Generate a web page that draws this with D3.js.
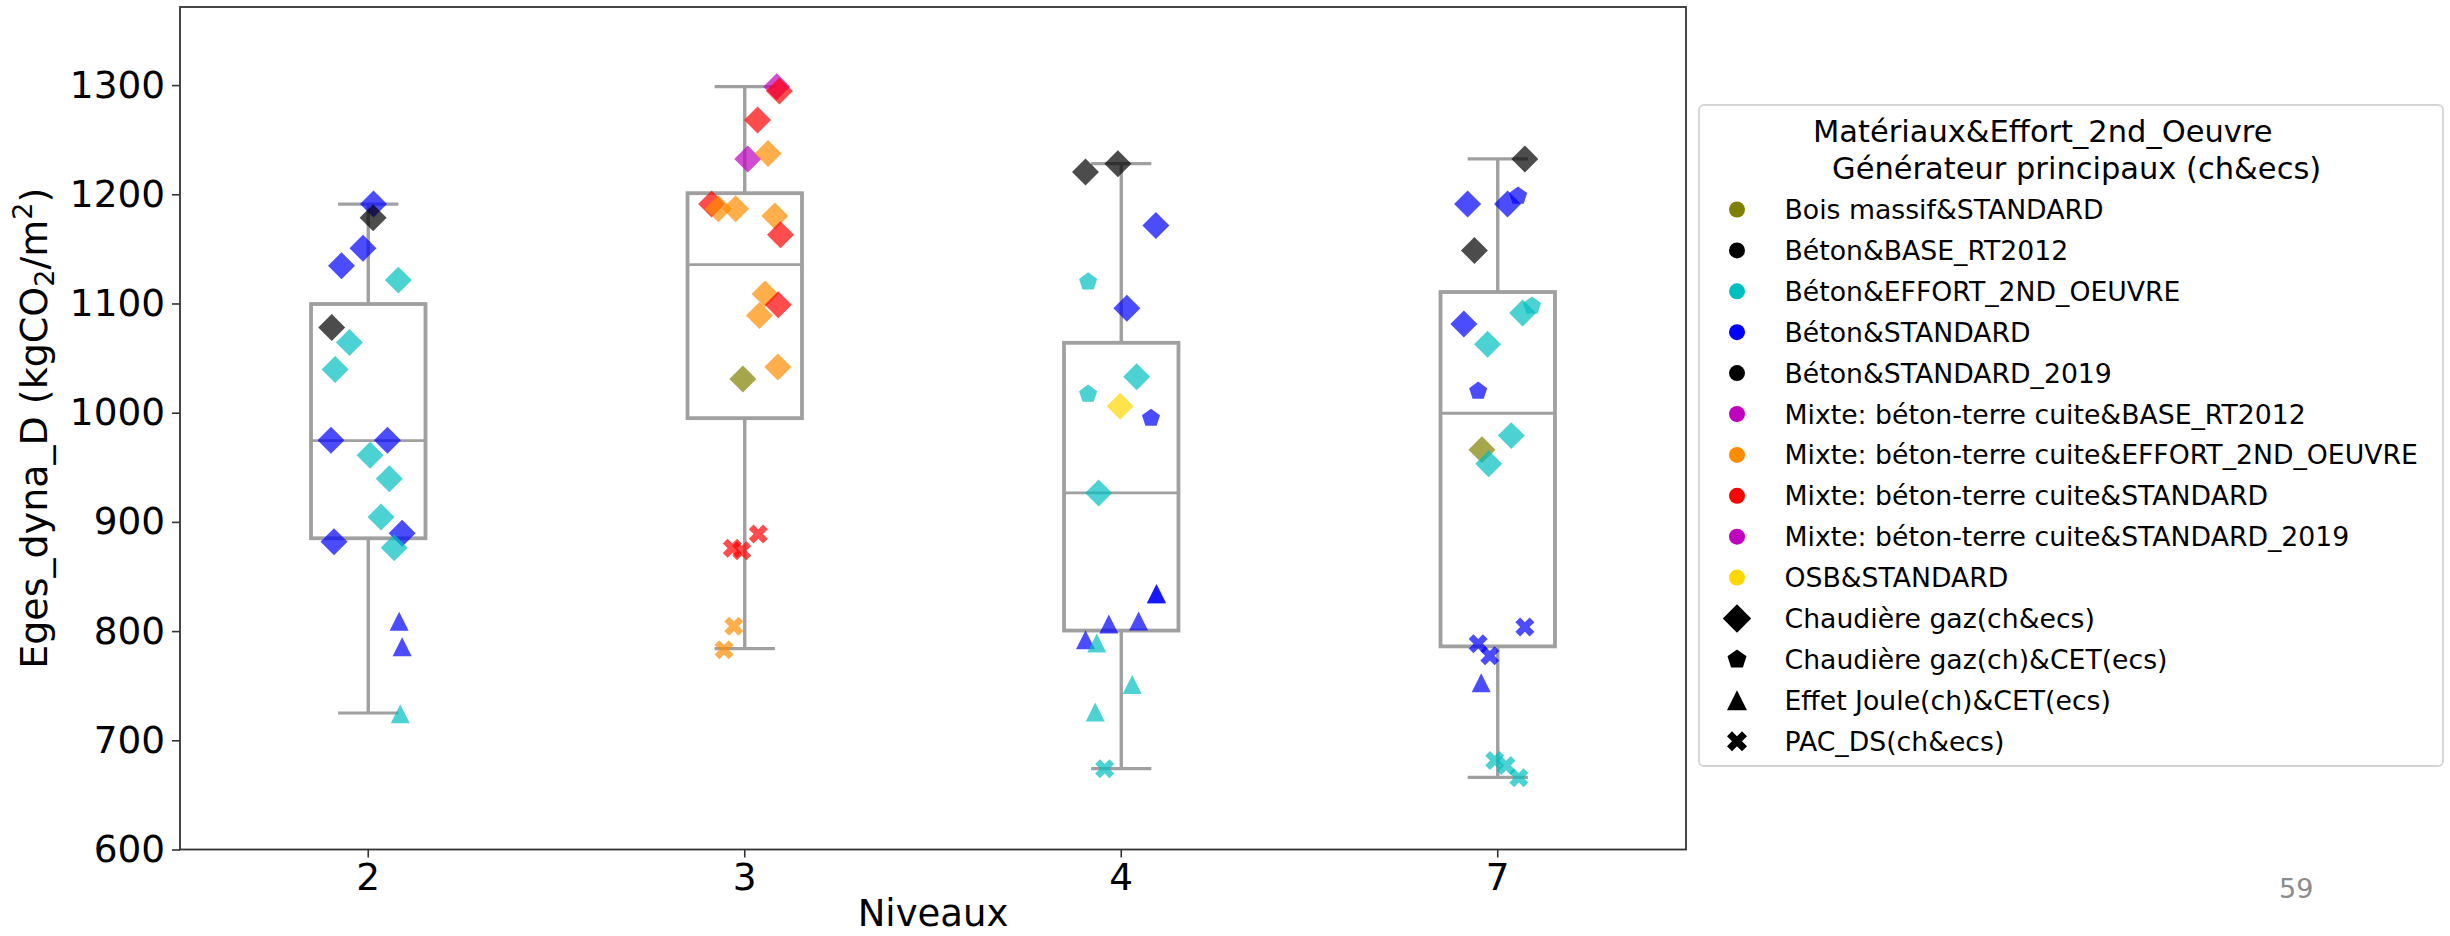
<!DOCTYPE html>
<html>
<head>
<meta charset="utf-8">
<script src="https://cdn.jsdelivr.net/npm/d3@7"></script>
<style>
  html, body { margin: 0; padding: 0; background: #fff; }
  svg { display: block; }
  text { font-family: "DejaVu Sans", sans-serif; }
</style>
</head>
<body>
<svg id="chart" width="2450" height="936"></svg>
<script>
// ---------------- DATA ----------------
const categories = ["2", "3", "4", "7"];
const yTicks = [600, 700, 800, 900, 1000, 1100, 1200, 1300];
const yDomain = [600, 1371.5];

// box statistics per level
const whiskerLow  = [725, 784, 674, 666];
const q1          = [885, 995, 800.5, 786];
const median      = [974.5, 1135.5, 926.5, 999.5];
const q3          = [1099.5, 1201, 1064, 1110.5];
const whiskerHigh = [1191, 1298.5, 1228, 1232.5];

const materials = [
  "Bois massif&STANDARD",
  "Béton&BASE_RT2012",
  "Béton&EFFORT_2ND_OEUVRE",
  "Béton&STANDARD",
  "Béton&STANDARD_2019",
  "Mixte: béton-terre cuite&BASE_RT2012",
  "Mixte: béton-terre cuite&EFFORT_2ND_OEUVRE",
  "Mixte: béton-terre cuite&STANDARD",
  "Mixte: béton-terre cuite&STANDARD_2019",
  "OSB&STANDARD"
];
const materialColors = ["#808000", "#000000", "#00bfbf", "#0000ff", "#000000",
                        "#bf00bf", "#ff8c00", "#ff0000", "#bf00bf", "#ffd700"];
const generators = ["Chaudière gaz(ch&ecs)", "Chaudière gaz(ch)&CET(ecs)",
                    "Effet Joule(ch)&CET(ecs)", "PAC_DS(ch&ecs)"];
const generatorShapes = ["diamond", "pentagon", "triangle", "cross"];

// points: [value, jitter (fraction of band), material index, generator index]
const level2Points = [
  [1191, 0.014, 3, 0], [1178.6, 0.013, 4, 0], [1150.6, -0.014, 3, 0], [1134.6, -0.071, 3, 0],
  [1121.4, 0.080, 2, 0], [1078, -0.097, 1, 0], [1064.3, -0.050, 2, 0], [1039.6, -0.088, 2, 0],
  [974.7, -0.099, 3, 0], [974.7, 0.051, 3, 0], [961, 0.005, 2, 0], [939.6, 0.056, 2, 0],
  [904.4, 0.034, 2, 0], [889.6, 0.090, 3, 0], [881.9, -0.091, 3, 0], [876.4, 0.069, 2, 0],
  [809, 0.082, 3, 2], [785.7, 0.090, 3, 2], [724.2, 0.085, 2, 2]
];
const level3Points = [
  [1298.5, 0.085, 5, 0], [1294.5, 0.092, 7, 0], [1268, 0.034, 7, 0], [1232.4, 0.008, 8, 0],
  [1237.4, 0.062, 6, 0], [1191.2, -0.088, 7, 0], [1186.8, -0.070, 6, 0], [1186.8, -0.024, 6, 0],
  [1180.2, 0.080, 6, 0], [1163, 0.095, 7, 0], [1108.8, 0.054, 6, 0], [1098.9, 0.089, 7, 0],
  [1089, 0.039, 6, 0], [1041.8, 0.088, 6, 0], [1030.8, -0.005, 0, 0],
  [889, 0.036, 7, 3], [875.8, -0.033, 7, 3], [873.6, -0.008, 7, 3], [804.4, -0.029, 6, 3], [783, -0.055, 6, 3]
];
const level4Points = [
  [1220.3, -0.095, 1, 0], [1228, -0.009, 4, 0], [1171.4, 0.092, 3, 0], [1119.8, -0.088, 2, 1],
  [1095.6, 0.015, 3, 0], [1033, 0.041, 2, 0], [1017, -0.088, 2, 1], [1006, -0.003, 9, 0],
  [995, 0.079, 3, 1], [926.4, -0.060, 2, 0], [834, 0.093, 3, 2], [834.5, 0.094, 3, 2],
  [809.3, 0.046, 3, 2], [806.6, -0.033, 3, 2], [792, -0.095, 3, 2], [789, -0.065, 2, 2],
  [751, 0.029, 2, 2], [726, -0.069, 2, 2], [674, -0.044, 2, 3]
];
const level7Points = [
  [1232.4, 0.072, 4, 0], [1191.2, -0.080, 3, 0], [1191.2, 0.026, 3, 0], [1198.4, 0.054, 3, 1],
  [1148.6, -0.062, 1, 0], [1081.3, -0.090, 3, 0], [1091.2, 0.066, 2, 0], [1097.8, 0.091, 2, 1],
  [1062.6, -0.027, 2, 0], [1019.8, -0.052, 3, 1], [979, 0.036, 2, 0], [966, -0.042, 0, 0],
  [953.3, -0.024, 2, 0], [803.8, 0.072, 3, 3], [788.5, -0.052, 3, 3], [777.5, -0.021, 3, 3],
  [752.8, -0.044, 3, 2], [681.4, -0.008, 2, 3], [677, 0.022, 2, 3], [665.6, 0.056, 2, 3]
];
const pointsByLevel = [level2Points, level3Points, level4Points, level7Points];

const legendTitle = ["Matériaux&Effort_2nd_Oeuvre", "Générateur principaux (ch&ecs)"];
const pageNumber = "59";

// ---------------- LAYOUT ----------------
const svg = d3.select("#chart");
const plot = { left: 180, right: 1686, top: 7, bottom: 849.5 };

const x = d3.scaleBand().domain(categories).range([plot.left, plot.right]).paddingInner(0).paddingOuter(0);
const y = d3.scaleLinear().domain(yDomain).range([plot.bottom, plot.top]);
const bw = x.bandwidth();
const cx = c => x(c) + bw / 2;

svg.append("rect").attr("width", 2450).attr("height", 936).attr("fill", "#fff");

// ---------------- BOXES ----------------
const boxColor = "#a0a0a0";
const boxHalf = bw * 0.152;
const capHalf = bw * 0.08;
const boxes = svg.append("g");
categories.forEach((c, i) => {
  const g = boxes.append("g");
  const xc = cx(c);
  g.append("line").attr("x1", xc).attr("x2", xc).attr("y1", y(whiskerHigh[i])).attr("y2", y(q3[i]))
    .attr("stroke", boxColor).attr("stroke-width", 3.4);
  g.append("line").attr("x1", xc).attr("x2", xc).attr("y1", y(q1[i])).attr("y2", y(whiskerLow[i]))
    .attr("stroke", boxColor).attr("stroke-width", 3.4);
  g.append("line").attr("x1", xc - capHalf).attr("x2", xc + capHalf).attr("y1", y(whiskerHigh[i])).attr("y2", y(whiskerHigh[i]))
    .attr("stroke", boxColor).attr("stroke-width", 3.2);
  g.append("line").attr("x1", xc - capHalf).attr("x2", xc + capHalf).attr("y1", y(whiskerLow[i])).attr("y2", y(whiskerLow[i]))
    .attr("stroke", boxColor).attr("stroke-width", 3.2);
  g.append("rect").attr("x", xc - boxHalf).attr("width", boxHalf * 2)
    .attr("y", y(q3[i])).attr("height", y(q1[i]) - y(q3[i]))
    .attr("fill", "none").attr("stroke", boxColor).attr("stroke-width", 3.8);
  g.append("line").attr("x1", xc - boxHalf).attr("x2", xc + boxHalf).attr("y1", y(median[i])).attr("y2", y(median[i]))
    .attr("stroke", boxColor).attr("stroke-width", 2.8);
});

// ---------------- MARKERS ----------------
function shapePath(shape, s) {
  // s = marker size (px)
  if (shape === "diamond") {
    const r = s * 0.71;
    return `M0,${-r}L${r},0L0,${r}L${-r},0Z`;
  }
  if (shape === "pentagon") {
    const r = s * 0.5;
    let p = "";
    for (let k = 0; k < 5; k++) {
      const a = -Math.PI / 2 + k * 2 * Math.PI / 5;
      p += (k ? "L" : "M") + (r * Math.cos(a)).toFixed(2) + "," + (r * Math.sin(a)).toFixed(2);
    }
    return p + "Z";
  }
  if (shape === "triangle") {
    const h = s * 0.5;
    return `M0,${-h}L${h},${h}L${-h},${h}Z`;
  }
  if (shape === "cross") {
    const a = s * 0.53, t = a / 3;
    const pts = [[-t,-a],[t,-a],[t,-t],[a,-t],[a,t],[t,t],[t,a],[-t,a],[-t,t],[-a,t],[-a,-t],[-t,-t]];
    const c = Math.SQRT1_2;
    return "M" + pts.map(([px, py]) => ((px - py) * c).toFixed(2) + "," + ((px + py) * c).toFixed(2)).join("L") + "Z";
  }
  if (shape === "circle") {
    const r = s * 0.5;
    return `M${r},0A${r},${r} 0 1,1 ${-r},0A${r},${r} 0 1,1 ${r},0Z`;
  }
}

const markerSize = 19;
const pts = svg.append("g");
categories.forEach((c, i) => {
  pts.selectAll(null).data(pointsByLevel[i]).enter().append("path")
    .attr("d", d => shapePath(generatorShapes[d[3]], markerSize))
    .attr("transform", d => `translate(${cx(c) + d[1] * bw},${y(d[0])})`)
    .attr("fill", d => materialColors[d[2]])
    .attr("fill-opacity", 0.7);
});

// ---------------- AXES ----------------
const axisColor = "#333";
const yAxis = d3.axisLeft(y).tickValues(yTicks).tickSize(8).tickPadding(7).tickFormat(d3.format("d"));
const gy = svg.append("g").attr("transform", `translate(${plot.left},0)`).call(yAxis);
gy.select(".domain").remove();
gy.selectAll(".tick line").attr("stroke", axisColor).attr("stroke-width", 1.6);
gy.selectAll(".tick text").attr("font-size", 37.4).attr("fill", "#000").attr("font-family", "DejaVu Sans");

const xAxis = d3.axisBottom(x).tickSize(8).tickPadding(6);
const gx = svg.append("g").attr("transform", `translate(0,${plot.bottom})`).call(xAxis);
gx.select(".domain").remove();
gx.selectAll(".tick line").attr("stroke", axisColor).attr("stroke-width", 1.6);
gx.selectAll(".tick text").attr("font-size", 37.4).attr("fill", "#000").attr("font-family", "DejaVu Sans");

// frame
svg.append("rect").attr("x", plot.left).attr("y", plot.top)
  .attr("width", plot.right - plot.left).attr("height", plot.bottom - plot.top)
  .attr("fill", "none").attr("stroke", axisColor).attr("stroke-width", 1.8);

// axis titles
svg.append("text").attr("x", (plot.left + plot.right) / 2).attr("y", 926)
  .attr("text-anchor", "middle").attr("font-size", 37).attr("fill", "#000").text("Niveaux");

const yl = svg.append("text").attr("transform", `translate(47,${(plot.top + plot.bottom) / 2}) rotate(-90)`)
  .attr("text-anchor", "middle").attr("font-size", 38).attr("fill", "#000");
yl.append("tspan").text("Eges_dyna_D (kgCO");
yl.append("tspan").attr("font-size", 27).attr("dy", 7).text("2");
yl.append("tspan").attr("dy", -7).text("/m");
yl.append("tspan").attr("font-size", 27).attr("dy", -15).text("2");
yl.append("tspan").attr("dy", 15).text(")");

// ---------------- LEGEND ----------------
const lg = svg.append("g");
lg.append("rect").attr("x", 1699).attr("y", 105).attr("width", 2443 - 1699).attr("height", 766 - 105)
  .attr("rx", 5).attr("fill", "#fff").attr("stroke", "#d4d4d4").attr("stroke-width", 1.8);
lg.append("text").attr("x", 1813).attr("y", 142).attr("font-size", 30.5).attr("fill", "#000").text(legendTitle[0]);
lg.append("text").attr("x", 1832).attr("y", 179).attr("font-size", 30.5).attr("fill", "#000").text(legendTitle[1]);

const legendItems = materials.map((m, i) => ({ label: m, shape: "circle", color: materialColors[i], size: 16 }))
  .concat(generators.map((g, i) => ({ label: g, shape: generatorShapes[i], color: "#000", size: 20 })));
const rowY = i => 219 + i * 40.9;
legendItems.forEach((it, i) => {
  lg.append("path").attr("d", shapePath(it.shape, it.size))
    .attr("transform", `translate(1737,${rowY(i) - 9.5})`).attr("fill", it.color);
  lg.append("text").attr("x", 1784.5).attr("y", rowY(i)).attr("font-size", 26.7).attr("fill", "#000").text(it.label);
});

// page number
svg.append("text").attr("x", 2279).attr("y", 898).attr("font-size", 27)
  .attr("font-family", "Open Sans").attr("fill", "#8c8c8c").text(pageNumber);
</script>
</body>
</html>
